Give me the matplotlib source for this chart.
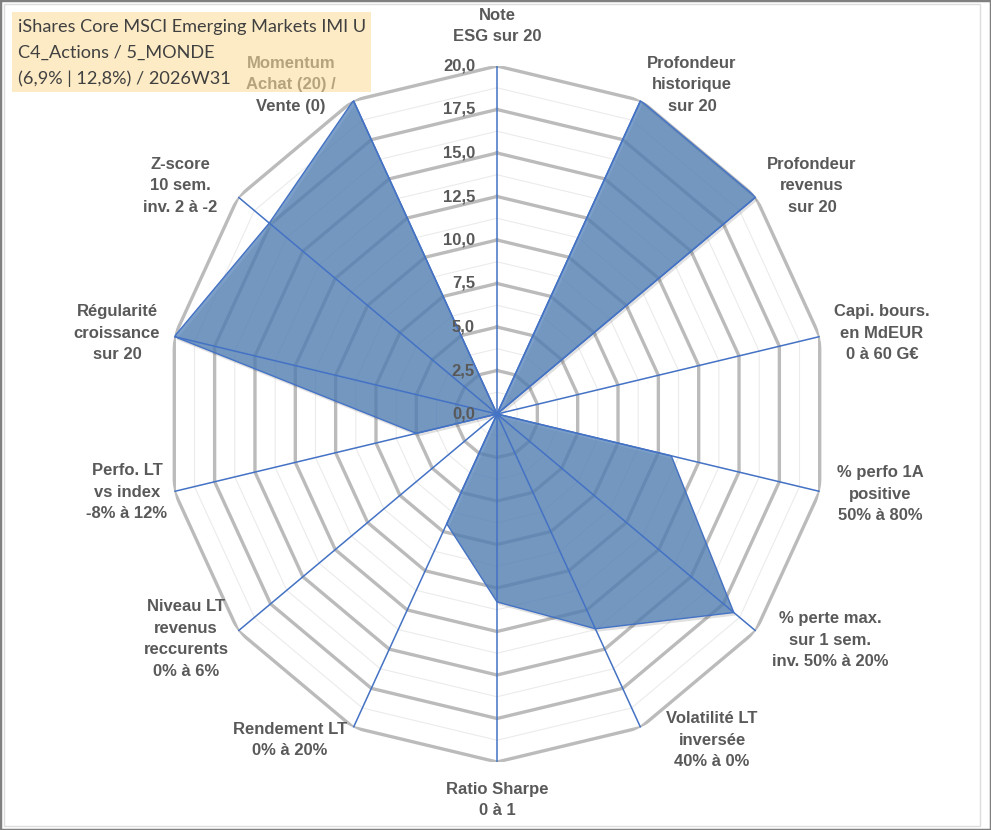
import numpy as np
import matplotlib.pyplot as plt
from matplotlib.patches import Rectangle
from matplotlib.transforms import offset_copy

# axes of the radar, clockwise from the top
axis_labels = [
    "Note\nESG sur 20",
    "Profondeur\nhistorique\nsur 20",
    "Profondeur\nrevenus\nsur 20",
    "Capi. bours.\nen MdEUR\n0 à 60 G€",
    "% perfo 1A\npositive\n50% à 80%",
    "% perte max.\nsur 1 sem.\ninv. 50% à 20%",
    "Volatilité LT\ninversée\n40% à 0%",
    "Ratio Sharpe\n0 à 1",
    "Rendement LT\n0% à 20%",
    "Niveau LT\nrevenus\nreccurents\n0% à 6%",
    "Perfo. LT\nvs index\n-8% à 12%",
    "Régularité\ncroissance\nsur 20",
    "Z-score\n10 sem.\ninv. 2 à -2",
    "Momentum\nAchat (20) /\nVente (0)",
]
scores = [0, 20, 20, 0, 10.8, 18.3, 13.7, 10.8, 7.0, 0, 5.0, 20, 17.6, 20]
r_ticks = [0, 2.5, 5, 7.5, 10, 12.5, 15, 17.5, 20]
title_lines = ["iShares Core MSCI Emerging Markets IMI U",
               "C4_Actions / 5_MONDE",
               "(6,9% | 12,8%) / 2026W31"]

# label centres in pixels (x from left, y from top)
label_px = [(497, 26), (692, 85), (812, 186), (882, 333), (880, 494),
            (830, 640), (712, 740), (497, 800), (290, 740), (186, 639),
            (127, 492), (117, 333), (180, 186), (291, 85)]

W, H = 991, 830
fig = plt.figure(figsize=(W / 100, H / 100), dpi=100)
fig.patch.set_facecolor('white')

def fx(x):
    return x / W

def fy(y):
    return 1 - y / H

# polar axes, centre (497, 414), radius ~348 px vertically, ~331 px horizontally
cx, cy, rx, ry = 497, 414, 331, 348
ax = fig.add_axes([fx(cx - rx), fy(cy + ry), 2 * rx / W, 2 * ry / H], projection='polar')
ax.set_aspect('auto')
ax.set_theta_zero_location('N')
ax.set_theta_direction(-1)
ax.set_ylim(0, 20)
ax.set_xticks([])
ax.set_yticks([])
ax.grid(False)
ax.spines['polar'].set_visible(False)
ax.patch.set_alpha(0)

n = len(scores)
angles = np.arange(n) * 2 * np.pi / n
ang_c = np.append(angles, angles[0])
val_c = np.append(scores, scores[0])

# polygon grid
for lvl in np.arange(1.25, 20, 2.5):
    ax.plot(ang_c, [lvl] * (n + 1), color='#EBEBEB', lw=0.8, zorder=1)
for lvl in r_ticks[1:]:
    ax.plot(ang_c, [lvl] * (n + 1), color='#BBBBBB', lw=2.4, zorder=2)

# series
shadow = offset_copy(ax.transData, fig=fig, x=2, y=-3, units='dots')
ax.fill(ang_c, val_c, color='#000000', alpha=0.12, lw=0, zorder=2.5, transform=shadow)
ax.fill(ang_c, val_c, color='#5281B7', alpha=0.76, lw=0, zorder=3)
ax.plot(ang_c, val_c, color='#4472C4', lw=1.0, zorder=4)
for th in angles:
    ax.plot([th, th], [0, 20], color='#4472C4', lw=1.1, zorder=5)

# radial tick labels
lab_tr = offset_copy(ax.transData, fig=fig, x=-22, y=0, units='dots')
for v in r_ticks:
    ax.text(0, v, f"{v:.1f}".replace('.', ','), transform=lab_tr, ha='right', va='center',
            fontsize=12, fontweight='bold', color='#595959', family='Liberation Sans', zorder=6)

# axis labels
for txt, (x, y) in zip(axis_labels, label_px):
    fig.text(fx(x), fy(y), txt, ha='center', va='center', multialignment='center',
             fontsize=12, fontweight='bold', color='#595959', family='Liberation Sans',
             linespacing=1.58, zorder=5)

# title box drawn over the Momentum label
fig.add_artist(Rectangle((fx(12), fy(92)), (371 - 12) / W, 80 / H, transform=fig.transFigure,
                         facecolor=(250 / 255, 220 / 255, 154 / 255), alpha=0.57, lw=0, zorder=10))
for i, line in enumerate(title_lines):
    fig.text(fx(18), fy(27 + 26 * i), line, ha='left', va='center', fontsize=13.1,
             family='Lato', color='#404040', zorder=11)

# frame
fig.add_artist(Rectangle((fx(4), fy(826)), (980 - 4) / W, (826 - 4) / H, transform=fig.transFigure,
                         fill=False, ec='#DDDDDD', lw=1))
fig.add_artist(Rectangle((0, 0), 1, 1, transform=fig.transFigure, fill=False, ec='#808080', lw=2.5))

fig.savefig('out.png', dpi=100)
